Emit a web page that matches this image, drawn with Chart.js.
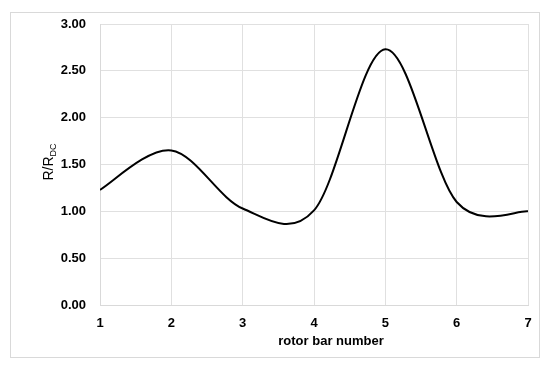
<!DOCTYPE html>
<html>
<head>
<meta charset="utf-8">
<script src="https://cdn.jsdelivr.net/npm/chart.js@4.4.0/dist/chart.umd.min.js"></script>
<style>
  html, body { margin: 0; padding: 0; background: #fff; }
  #wrap { width: 550px; height: 371px; }
</style>
</head>
<body>
<div id="wrap"><canvas id="rdc"></canvas></div>
<script>
// rotor bar number vs R/Rdc
let barNumbers = [1, 2, 3, 4, 5, 6, 7];
let ratioValues = [1.23, 1.65, 1.03, 1.01, 2.73, 1.1, 1.0];
let yTicks = [0, 0.5, 1, 1.5, 2, 2.5, 3];

let points = [];
for (let i = 0; i < barNumbers.length; i++) {
  points.push({ x: barNumbers[i], y: ratioValues[i] });
}

const fontFam = "'Liberation Sans', Arial, sans-serif";

// excel-like smoothing: plain catmull-rom control points (1/6 of neighbour span)
const excelSmooth = {
  id: "excelSmooth",
  beforeDatasetsDraw(chart) {
    const meta = chart.getDatasetMeta(0);
    const line = meta.dataset;
    line.updateControlPoints(chart.chartArea);
    const pts = meta.data;
    for (let i = 0; i < pts.length; i++) {
      const p = pts[i];
      const prev = pts[i - 1] || p;
      const next = pts[i + 1] || p;
      const dx = (next.x - prev.x) / 6;
      const dy = (next.y - prev.y) / 6;
      p.cp1x = p.x - dx;
      p.cp1y = p.y - dy;
      p.cp2x = p.x + dx;
      p.cp2y = p.y + dy;
    }
    delete line._path;
  }
};

// frame + axis titles (R/R with DC subscript)
const extras = {
  id: "extras",
  beforeDraw(chart) {
    const c = chart.ctx;
    c.save();
    c.fillStyle = "#fff";
    c.fillRect(0, 0, chart.width, chart.height);
    c.strokeStyle = "#d9d9d9";
    c.lineWidth = 1;
    c.strokeRect(10.5, 12.5, 529, 345);
    c.restore();
  },
  afterDraw(chart) {
    const c = chart.ctx;
    c.save();
    c.fillStyle = "#000";
    // x title
    c.font = "bold 13px " + fontFam;
    c.textAlign = "center";
    c.textBaseline = "middle";
    c.fillText("rotor bar number", 331, 341);
    // y title, rotated
    c.translate(48, 162);
    c.rotate(-Math.PI / 2);
    c.font = "14px " + fontFam;
    const main = "R/R";
    const sub = "DC";
    const w1 = c.measureText(main).width;
    c.font = "9px " + fontFam;
    const w2 = c.measureText(sub).width;
    const start = -(w1 + w2) / 2;
    c.textAlign = "left";
    c.textBaseline = "alphabetic";
    c.font = "14px " + fontFam;
    c.fillText(main, start, 5);
    c.font = "9px " + fontFam;
    c.fillText(sub, start + w1, 8);
    c.restore();
  }
};

new Chart("rdc", {
  type: "line",
  data: {
    datasets: [
      {
        data: points,
        borderColor: "#000",
        borderWidth: 2,
        pointRadius: 0,
        tension: 0.4,
        fill: false,
      },
    ],
  },
  options: {
    responsive: true,
    maintainAspectRatio: false,
    animation: false,
    layout: { padding: { top: 24, right: 22, left: 0, bottom: 0 } },
    plugins: { legend: { display: false }, tooltip: { enabled: false } },
    scales: {
      x: {
        type: "linear",
        min: 1,
        max: 7,
        afterFit: (s) => { s.height = 66; },
        grid: { color: "#e0e0e0", drawTicks: false },
        border: { color: "#d9d9d9" },
        ticks: {
          stepSize: 1,
          padding: 11,
          color: "#000",
          font: { family: fontFam, size: 13, weight: "bold" },
        },
      },
      y: {
        min: 0,
        max: 3,
        afterFit: (s) => { s.width = 100; },
        afterBuildTicks: (s) => { s.ticks = yTicks.map((v) => ({ value: v })); },
        grid: { color: "#e0e0e0", drawTicks: false },
        border: { color: "#d9d9d9" },
        ticks: {
          padding: 14,
          color: "#000",
          font: { family: fontFam, size: 13, weight: "bold" },
          callback: (v) => v.toFixed(2),
        },
      },
    },
  },
  plugins: [excelSmooth, extras],
});
</script>
</body>
</html>
